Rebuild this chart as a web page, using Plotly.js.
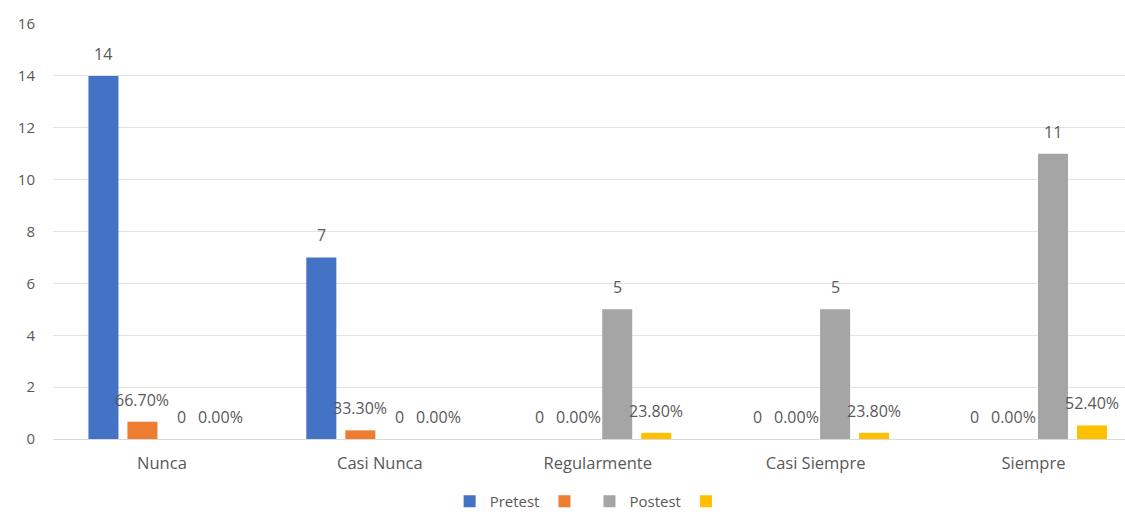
<!DOCTYPE html>
<html>
<head>
<meta charset="utf-8">
<script src="https://cdn.plot.ly/plotly-3.0.1.min.js"></script>
<style>
  html, body { margin: 0; padding: 0; background: #fff; overflow: hidden; }
  #chart { width: 1125px; height: 518px; }
</style>
</head>
<body>
<div id="chart"></div>
<script>
// Categories and series values
const categories = ["Nunca", "Casi Nunca", "Regularmente", "Casi Siempre", "Siempre"];
const pretest = [14, 7, 0, 0, 0];
const pretestPct = [0.667, 0.333, 0, 0, 0];
const postest = [0, 0, 5, 5, 11];
const postestPct = [0, 0, 0.238, 0.238, 0.524];
const seriesNames = ["Pretest", "", "Postest", ""];
const yTicks = [0, 2, 4, 6, 8, 10, 12, 14, 16];

const colors = ["#4472C4", "#ED7D31", "#A5A5A5", "#FFC000"];
const font = "Open Sans, Noto Sans, sans-serif";
const textColor = "#595959";

const W = 1125, H = 518;
const margin = { l: 53, r: 0, t: 24, b: 79 };
const xRange = [-0.5, 4.42];
const bargap = 0.284;

const series = [
  { name: seriesNames[0], y: pretest, fmt: v => String(v) },
  { name: seriesNames[1], y: pretestPct, fmt: v => (v * 100).toFixed(2) + "%" },
  { name: seriesNames[2], y: postest, fmt: v => String(v) },
  { name: seriesNames[3], y: postestPct, fmt: v => (v * 100).toFixed(2) + "%" }
];

const traces = series.map((s, i) => ({
  type: "bar",
  name: s.name,
  x: categories,
  y: s.y,
  marker: { color: colors[i] },
  hoverinfo: "x+y"
}));

// Data labels above each bar, shifted to the bar's slot inside its group
const plotW = W - margin.l - margin.r;
const pxPerCat = plotW / (xRange[1] - xRange[0]);
const slot = pxPerCat * (1 - bargap) / series.length;
const annotations = [];
series.forEach((s, i) => {
  const shift = (i - (series.length - 1) / 2) * slot;
  s.y.forEach((v, j) => {
    annotations.push({
      x: categories[j], y: v, xref: "x", yref: "y",
      text: s.fmt(v), showarrow: false,
      xshift: shift, yshift: 22,
      xanchor: "center", yanchor: "middle",
      font: { family: font, size: 16, color: textColor }
    });
  });
});

const layout = {
  width: W, height: H,
  margin: margin,
  paper_bgcolor: "#fff", plot_bgcolor: "#fff",
  font: { family: font, color: textColor },
  barmode: "group",
  bargap: bargap,
  bargroupgap: 0.23,
  showlegend: true,
  legend: {
    orientation: "h", x: 0.525, xanchor: "center", xref: "container",
    y: -5 / 518, yanchor: "bottom", yref: "container",
    font: { family: font, size: 15, color: textColor },
    itemwidth: 30, tracegroupgap: 0
  },
  xaxis: {
    type: "category", range: xRange,
    showgrid: false, zeroline: false, showline: false,
    ticks: "", ticklabelstandoff: 12,
    tickfont: { family: font, size: 16.5, color: textColor },
    automargin: false
  },
  yaxis: {
    range: [0, 16], tickvals: yTicks,
    showgrid: true, gridcolor: "#e3e3e3", gridwidth: 1,
    zeroline: true, zerolinecolor: "#d9d9d9", zerolinewidth: 1,
    showline: false, ticks: "",
    ticklabelstandoff: 17,
    tickfont: { family: font, size: 15, color: textColor },
    automargin: false
  },
  annotations: annotations
};

Plotly.newPlot("chart", traces, layout, { displayModeBar: false, staticPlot: true });
</script>
</body>
</html>
